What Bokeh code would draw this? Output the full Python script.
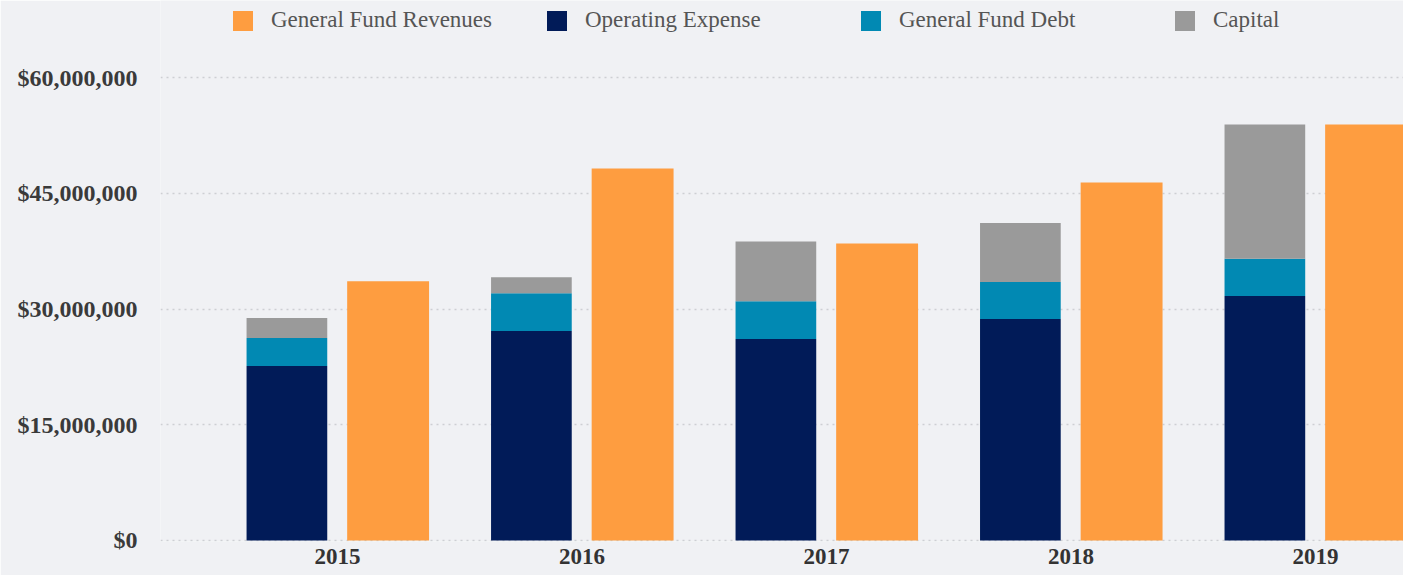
from bokeh.plotting import figure
from bokeh.models import (ColumnDataSource, Legend, LegendItem, NumeralTickFormatter,
                          FixedTicker, Range1d)
from bokeh.transform import dodge
from bokeh.embed import file_html
from bokeh.resources import INLINE

years = ["2015", "2016", "2017", "2018", "2019"]
operating = [22.6e6, 27.15e6, 26.1e6, 28.7e6, 31.7e6]
debt = [3.65e6, 4.9e6, 4.9e6, 4.8e6, 4.8e6]
capital = [2.6e6, 2.05e6, 7.75e6, 7.65e6, 17.4e6]
revenues = [33.6e6, 48.2e6, 38.5e6, 46.4e6, 53.9e6]

y_ticks = [0, 15e6, 30e6, 45e6, 60e6]

c_rev = "#fe9d40"
c_ops = "#011b58"
c_debt = "#0189b3"
c_cap = "#9a9a9a"
bg = "#f0f1f4"

src = ColumnDataSource(dict(x=list(range(len(years))), operating=operating,
                            debt=debt, capital=capital, revenues=revenues))

p = figure(width=1403, height=575, output_backend="svg", toolbar_location=None,
           x_range=Range1d(-0.724, 4.36), y_range=Range1d(-0.13e6, 69.98e6),
           min_border_left=160, min_border_right=0, min_border_top=0,
           min_border_bottom=34)
p.background_fill_color = bg
p.border_fill_color = bg
p.outline_line_color = None

stack = p.vbar_stack(["operating", "debt", "capital"], x=dodge("x", -0.207),
                     width=0.33, color=[c_ops, c_debt, c_cap], line_color=None,
                     source=src)
rev = p.vbar(x=dodge("x", 0.207), top="revenues", width=0.335, color=c_rev,
             line_color=None, source=src)

# axes
p.xaxis.ticker = FixedTicker(ticks=list(range(len(years))))
p.xaxis.major_label_overrides = {i: y for i, y in enumerate(years)}
p.xaxis.axis_line_color = None
p.xaxis.major_tick_line_color = None
p.xaxis.minor_tick_line_color = None
p.xaxis.major_tick_out = 0
p.xaxis.major_tick_in = 0
p.xaxis.major_label_text_font = "Liberation Serif"
p.xaxis.major_label_text_font_style = "bold"
p.xaxis.major_label_text_font_size = "23px"
p.xaxis.major_label_text_color = "#333333"
p.xaxis.major_label_standoff = 7

p.yaxis.ticker = FixedTicker(ticks=y_ticks)
p.yaxis.formatter = NumeralTickFormatter(format="$0,0")
p.yaxis.axis_line_color = None
p.yaxis.major_tick_line_color = None
p.yaxis.minor_tick_line_color = None
p.yaxis.major_tick_out = 0
p.yaxis.major_tick_in = 0
p.yaxis.major_label_standoff = 23
p.yaxis.major_label_text_font = "Liberation Serif"
p.yaxis.major_label_text_font_style = "bold"
p.yaxis.major_label_text_font_size = "24px"
p.yaxis.major_label_text_color = "#3a3a3a"

p.xgrid.visible = False
p.ygrid.grid_line_color = "#cdcfd3"
p.ygrid.grid_line_dash = "dotted"
p.ygrid.grid_line_width = 1.5

legend = Legend(items=[
    LegendItem(label="General Fund Revenues", renderers=[rev]),
    LegendItem(label="Operating Expense", renderers=[stack[0]]),
    LegendItem(label="General Fund Debt", renderers=[stack[1]]),
    LegendItem(label="Capital", renderers=[stack[2]]),
], orientation="horizontal", location=(70, 508))
legend.padding = 0
legend.margin = 0
legend.spacing = 16
legend.glyph_width = 25
legend.glyph_height = 25
legend.label_width = 257
legend.label_height = 25
legend.label_standoff = 16
legend.label_text_font = "Liberation Serif"
legend.label_text_font_size = "23px"
legend.label_text_color = "#555555"
legend.border_line_color = None
legend.background_fill_alpha = 0
p.add_layout(legend)

open("out.html", "w").write(file_html(p, INLINE))
